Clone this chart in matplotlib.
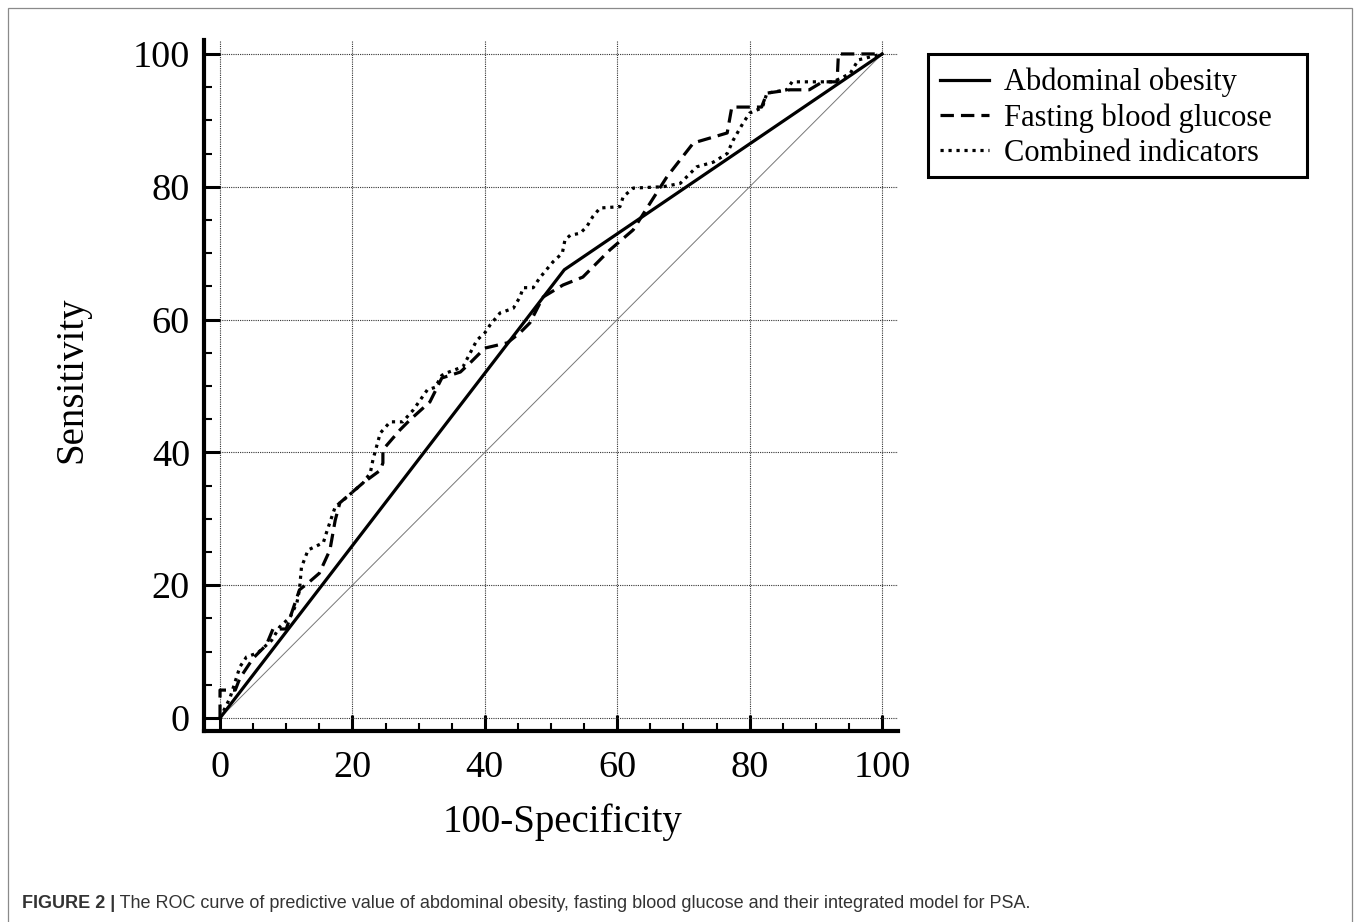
import matplotlib
matplotlib.use("Agg")
import matplotlib.pyplot as plt
from matplotlib.patches import Rectangle
from matplotlib.ticker import MultipleLocator

## data (100-Specificity, Sensitivity)
abdominal_x = [0, 52, 100]
abdominal_y = [0, 67.5, 100]

glucose_x = [0, 0, 2.3, 3, 5, 7, 8, 10, 12, 13.5,
             15, 16.6, 17.4, 18.1, 21.6, 24.2, 24.6, 24.6, 27.2, 28.7,
             31.7, 33.5, 36.3, 37.8, 40, 43.4, 45.3, 46.8, 48.8, 51.8,
             54.8, 58.9, 62.4, 65, 67.5, 71.5, 76.6, 77.3, 81.8, 82.6,
             86.1, 89, 91, 93.2, 93.4, 100]
glucose_y = [0, 4.2, 4.2, 6, 9, 11, 13.4, 13.4, 19.3, 20.5,
             21.8, 25.3, 29.8, 32.4, 35.4, 37.3, 38.4, 40.4, 43.4, 44.9,
             47.6, 51.2, 52.1, 53.5, 55.7, 56.5, 58, 59.5, 63.4, 65.2,
             66.4, 70.5, 73.5, 77.6, 81.5, 86.6, 88.1, 92, 92, 94.1,
             94.6, 94.6, 95.8, 95.8, 100, 100]

combined_x = [0, 1.5, 3, 4, 5.7, 7.8, 9, 10.6, 11.6, 12,
              12.3, 13.3, 15.6, 16.2, 17.4, 19.2, 21.6, 22.7, 23.1, 24.2,
              25.7, 27.6, 29.2, 31.3, 32.5, 33.5, 34.3, 36.7, 37.8, 38.8,
              40, 40.8, 42.3, 44.3, 45.3, 45.8, 47.3, 48.3, 50.3, 51.7,
              52.1, 52.9, 54.4, 55.4, 56.3, 57.4, 60.4, 60.9, 62.4, 66.9,
              69.5, 72, 74.5, 76.6, 77.5, 79, 80, 81.9, 82.6, 85.6,
              86.4, 89.6, 92.6, 94.1, 95.2, 96.4, 100]
combined_y = [0, 3, 7.7, 9.2, 9.8, 11.7, 13.7, 15.2, 17.3, 19.3,
              22.7, 25.3, 26.4, 28.3, 31.8, 33.3, 35.4, 36.9, 38.9, 42.9,
              44.6, 44.6, 46.4, 49.4, 49.8, 51.6, 52, 52.9, 55, 56.9,
              58, 59.2, 61, 61.7, 63.4, 64.8, 64.8, 66.3, 68.7, 70,
              72, 72.7, 73, 74, 75.5, 76.8, 77, 78.5, 79.8, 80,
              80.5, 83, 83.7, 85, 87, 89.6, 91.1, 91.9, 94.1, 94.6,
              95.8, 95.8, 95.8, 96.5, 97.1, 99.1, 100]

series_labels = ["Abdominal obesity", "Fasting blood glucose", "Combined indicators"]
tick_values = [0, 20, 40, 60, 80, 100]

caption_bold = "FIGURE 2 |"
caption_text = " The ROC curve of predictive value of abdominal obesity, fasting blood glucose and their integrated model for PSA."


def plot_roc():
    """
    draw the ROC figure
    """

    ## parameters
    serif = ["Liberation Serif", "DejaVu Serif"]
    sans = ["Liberation Sans", "DejaVu Sans"]
    W, H = 1360, 922

    fig = plt.figure(figsize=(W / 100, H / 100), dpi=100)

    ## outer frame
    fig.patches.append(Rectangle((8 / W, -0.01), (1352 - 8) / W, (H - 8) / H + 0.01,
                                 transform=fig.transFigure, fill=False,
                                 edgecolor="#8a8a8a", linewidth=0.9))

    ## axes
    ax = fig.add_axes([204 / W, (H - 731) / H, (898 - 204) / W, (731 - 40) / H])
    ax.set_xlim(-2.42, 102.4)
    ax.set_ylim(-1.96, 102.1)

    # diagonal reference
    ax.plot([0, 100], [0, 100], color="#777777", linewidth=0.7, zorder=2)

    # curves
    l1, = ax.plot(abdominal_x, abdominal_y, color="black", linewidth=2.3,
                  solid_joinstyle="miter", zorder=4)
    l2, = ax.plot(glucose_x, glucose_y, color="black", linewidth=2.3,
                  linestyle=(0, (4.2, 2.2)), zorder=4)
    l3, = ax.plot(combined_x, combined_y, color="black", linewidth=2.3,
                  linestyle=(0, (1.0, 1.5)), zorder=4)

    # grid
    ax.xaxis.set_major_locator(MultipleLocator(20))
    ax.yaxis.set_major_locator(MultipleLocator(20))
    ax.xaxis.set_minor_locator(MultipleLocator(5))
    ax.yaxis.set_minor_locator(MultipleLocator(5))
    ax.grid(True, which="major", color="#333333", linestyle=(0, (1, 1)), linewidth=0.8)
    ax.set_axisbelow(True)

    # spines
    for s in ["top", "right"]:
        ax.spines[s].set_visible(False)
    for s in ["left", "bottom"]:
        ax.spines[s].set_linewidth(3.0)

    # ticks
    ax.tick_params(which="major", direction="in", length=11.5, width=2.2, pad=14)
    ax.tick_params(which="minor", direction="in", length=5.5, width=1.5)
    ax.set_xticks(tick_values)
    ax.set_yticks(tick_values)
    ax.set_xticklabels([str(v) for v in tick_values], family=serif, fontsize=27.5)
    ax.set_yticklabels([str(v) for v in tick_values], family=serif, fontsize=27.5)
    ax.tick_params(axis="y", pad=10)

    # axis labels
    fig.text(563 / W, 1 - 822 / H, "100-Specificity", family=serif, fontsize=28,
             ha="center", va="center")
    fig.text(72 / W, 1 - 380 / H, "Sensitivity", family=serif, fontsize=28,
             ha="center", va="center", rotation=90)

    ## legend (box drawn separately to get the wide frame)
    fig.patches.append(Rectangle((928 / W, 1 - 177 / H), (1307 - 928) / W, (177 - 54) / H,
                                 transform=fig.transFigure, fill=False,
                                 edgecolor="black", linewidth=2.2, zorder=5))
    fig.legend([l1, l2, l3], series_labels, loc="center left",
               bbox_to_anchor=(940 / W, 1 - 118 / H),
               prop={"family": serif, "size": 22},
               frameon=False, handlelength=1.6, handletextpad=0.5,
               borderpad=0, labelspacing=0.2, borderaxespad=0)

    ## caption
    t1 = fig.text(22 / W, 1 - 903 / H, caption_bold, family=sans,
                  fontsize=13, fontweight="bold", color="#333333", va="center")
    fig.canvas.draw()
    bb = t1.get_window_extent()
    fig.text(bb.x1 / W, 1 - 903 / H, caption_text, family=sans,
             fontsize=13, color="#333333", va="center")

    fig.savefig("out.png", dpi=100)
    plt.close()


plot_roc()
